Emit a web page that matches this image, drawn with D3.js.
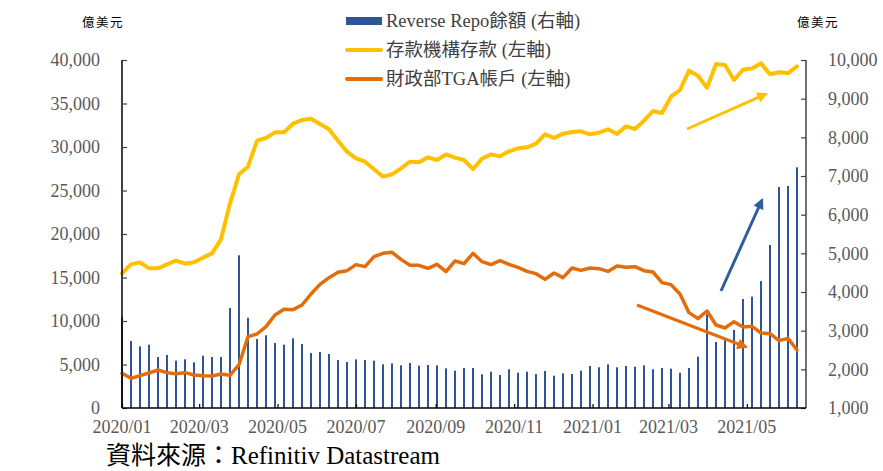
<!DOCTYPE html>
<html>
<head>
<meta charset="utf-8">
<script src="https://cdn.jsdelivr.net/npm/d3@7/dist/d3.min.js"></script>
<style>
  html, body { margin: 0; padding: 0; background: #fff; }
  svg { display: block; }
  text { font-family: "Liberation Serif", "Noto Sans CJK TC", serif; }
</style>
</head>
<body>
<svg id="chart" width="883" height="471"></svg>
<script>
// ---------- DATA ----------
const startDate = "2020-01-01";   // weekly observations (Wednesdays)
const weekCount = 76;

// Reverse Repo 餘額 (right axis, 億美元)
const reverseRepo = [
  3346, 2733, 2595, 2637, 2319, 2371, 2224, 2259, 2181, 2353, 2319, 2319, 3586, 4949, 3335, 2784,
  2880, 2681, 2637, 2802, 2655, 2422, 2448, 2396, 2241, 2190, 2259, 2241, 2224, 2130, 2156, 2104,
  2164, 2095, 2112, 2104, 2026, 1965, 2034, 2034, 1871, 1939, 1853, 2000, 1913, 1939, 1879, 1957,
  1836, 1897, 1879, 1965, 2086, 2052, 2130, 2052, 2086, 2069, 2104, 2000, 2034, 2017, 1913, 2034,
  2327, 3423, 2707, 2758, 3017, 3819, 3879, 4284, 5215, 6715, 6741, 7225
];

// 存款機構存款 (left axis, 億美元)
const deposits = [
  15479, 16513, 16743, 16054, 16054, 16513, 16935, 16590, 16743, 17280, 17778, 19391, 23528, 26862, 27740, 30724,
  31034, 31686, 31686, 32677, 33103, 33256, 32643, 32031, 30724, 29460, 28700, 28314, 27434, 26590, 26862, 27549,
  28314, 28238, 28812, 28506, 29157, 28774, 28506, 27471, 28659, 29157, 28927, 29506, 29850, 29965, 30379, 31456,
  31034, 31532, 31724, 31801, 31456, 31647, 32031, 31494, 32375, 32068, 33026, 34137, 33907, 35781, 36551, 38770,
  38195, 36819, 39540, 39425, 37701, 38885, 39036, 39617, 38356, 38587, 38502, 39272
];

// 財政部TGA帳戶 (left axis, 億美元)
const tga = [
  3985, 3410, 3716, 4023, 4368, 4061, 3946, 4061, 3793, 3716, 3678, 3908, 3755, 4981, 8199, 8506,
  9349, 10690, 11341, 11303, 11839, 13103, 14215, 14981, 15594, 15785, 16480, 16245, 17395, 17778, 17893, 17088,
  16399, 16399, 16054, 16513, 15670, 16897, 16590, 17778, 16820, 16475, 16935, 16513, 16169, 15709, 15441, 14790,
  15517, 14981, 16092, 15824, 16092, 16016, 15700, 16322, 16169, 16245, 15785, 15632, 14407, 14177, 13103, 10958,
  10268, 11149, 9540, 9195, 9923, 9310, 9387, 8620, 8544, 7739, 8008, 6667
];

const leftTicks = [0, 5000, 10000, 15000, 20000, 25000, 30000, 35000, 40000];
const rightTicks = [1000, 2000, 3000, 4000, 5000, 6000, 7000, 8000, 9000, 10000];
const xTickLabels = ["2020/01", "2020/03", "2020/05", "2020/07", "2020/09", "2020/11", "2021/01", "2021/03", "2021/05"];
const xDomainEnd = "2021-06-16";

const legendLabels = ["Reverse Repo餘額 (右軸)", "存款機構存款 (左軸)", "財政部TGA帳戶 (左軸)"];
const unitLabel = "億美元";
const sourceLabel = "資料來源：Refinitiv Datastream";

// ---------- CHART ----------
const parse = d3.timeParse("%Y-%m-%d");
const parseMonth = d3.timeParse("%Y/%m");
const start = parse(startDate);
const dates = d3.range(weekCount).map(i => d3.timeDay.offset(start, 7 * i));

const colors = { bar: "#2F5597", yellow: "#FFC000", orange: "#E46C0A", arrowBlue: "#2F5F9A" };
const svg = d3.select("#chart");

const x = d3.scaleTime().domain([start, parse(xDomainEnd)]).range([122, 806]);
const yL = d3.scaleLinear().domain([0, 40000]).range([408, 60]);
const yR = d3.scaleLinear().domain([1000, 10000]).range([408, 60]);

// bars
svg.append("g").selectAll("rect").data(reverseRepo).join("rect")
  .attr("x", (d, i) => x(dates[i]) - 1)
  .attr("width", 2)
  .attr("y", d => yR(d))
  .attr("height", d => yR(1000) - yR(d))
  .attr("fill", colors.bar);

// lines
const lineL = d3.line().x((d, i) => x(dates[i])).y(d => yL(d));
svg.append("path").datum(deposits).attr("d", lineL)
  .attr("fill", "none").attr("stroke", colors.yellow).attr("stroke-width", 4)
  .attr("stroke-linejoin", "round").attr("stroke-linecap", "round");
svg.append("path").datum(tga).attr("d", lineL)
  .attr("fill", "none").attr("stroke", colors.orange).attr("stroke-width", 3.5)
  .attr("stroke-linejoin", "round").attr("stroke-linecap", "round");

// left axis
const axL = d3.axisRight(yL).tickValues(leftTicks).tickSize(5).tickFormat("");
const gL = svg.append("g").attr("transform", `translate(${x.range()[0]},0)`).call(axL);
gL.select(".domain").attr("stroke", "#000").attr("stroke-width", 1.5).attr("d", `M0,${yL(40000)}H0V${yL(0)}`);
gL.selectAll(".tick line").attr("stroke", "#404040").attr("stroke-width", 1.2);
svg.append("g").selectAll("text").data(leftTicks).join("text")
  .attr("x", 100).attr("y", d => yL(d)).attr("dy", "0.35em")
  .attr("text-anchor", "end").attr("font-size", 18).attr("fill", "#595959")
  .text(d => d3.format(",")(d));

// right axis
const axR = d3.axisLeft(yR).tickValues(rightTicks).tickSize(5).tickFormat("");
const gR = svg.append("g").attr("transform", `translate(${x.range()[1]},0)`).call(axR);
gR.select(".domain").attr("stroke", "#404040").attr("stroke-width", 1.5).attr("d", `M0,${yR(10000)}H0V${yR(1000)}`);
gR.selectAll(".tick line").attr("stroke", "#404040").attr("stroke-width", 1.2);
svg.append("g").selectAll("text").data(rightTicks).join("text")
  .attr("x", 828).attr("y", d => yR(d)).attr("dy", "0.35em")
  .attr("text-anchor", "start").attr("font-size", 18).attr("fill", "#595959")
  .text(d => d3.format(",")(d));

// x axis
const xTickDates = xTickLabels.map(parseMonth);
const axX = d3.axisTop(x).tickValues(xTickDates).tickSize(4).tickFormat("");
const gX = svg.append("g").attr("transform", `translate(0,${yL(0)})`).call(axX);
gX.select(".domain").attr("stroke", "#000").attr("stroke-width", 1.5).attr("d", `M${x.range()[0]},0H${x.range()[1]}`);
gX.selectAll(".tick line").attr("stroke", "#000").attr("stroke-width", 1.2);
svg.append("g").selectAll("text").data(xTickLabels).join("text")
  .attr("x", (d, i) => x(xTickDates[i])).attr("y", 433)
  .attr("text-anchor", "middle").attr("font-size", 18).attr("fill", "#595959")
  .text(d => d);

// unit labels
svg.append("text").attr("x", 82).attr("y", 27).attr("font-size", 12.5).attr("letter-spacing", 1.5)
  .attr("fill", "#000").text(unitLabel);
svg.append("text").attr("x", 797).attr("y", 27).attr("font-size", 12.5).attr("letter-spacing", 1.5)
  .attr("fill", "#000").text(unitLabel);

// legend
const legY = [21, 50, 79];
svg.append("rect").attr("x", 346).attr("y", legY[0] - 4).attr("width", 36).attr("height", 8).attr("fill", colors.bar);
svg.append("line").attr("x1", 347).attr("x2", 381).attr("y1", legY[1]).attr("y2", legY[1])
  .attr("stroke", colors.yellow).attr("stroke-width", 4).attr("stroke-linecap", "round");
svg.append("line").attr("x1", 347).attr("x2", 381).attr("y1", legY[2]).attr("y2", legY[2])
  .attr("stroke", colors.orange).attr("stroke-width", 4).attr("stroke-linecap", "round");
svg.append("g").selectAll("text").data(legendLabels).join("text")
  .attr("x", 386).attr("y", (d, i) => legY[i]).attr("dy", "0.35em")
  .attr("font-size", 18.5).attr("fill", "#404040").text(d => d);

// annotation arrows
const defs = svg.append("defs");
function marker(id, color) {
  defs.append("marker").attr("id", id).attr("viewBox", "0 0 10 10")
    .attr("refX", 8).attr("refY", 5).attr("markerWidth", 4).attr("markerHeight", 3.6)
    .attr("orient", "auto").attr("markerUnits", "strokeWidth")
    .append("path").attr("d", "M0,0L10,5L0,10Z").attr("fill", color);
}
marker("arrY", colors.yellow);
marker("arrB", colors.arrowBlue);
marker("arrO", colors.orange);
const arrows = [
  { x1: 687, y1: 129, x2: 766, y2: 94, c: colors.yellow, m: "arrY" },
  { x1: 721, y1: 291, x2: 762, y2: 200, c: colors.arrowBlue, m: "arrB" },
  { x1: 637, y1: 305, x2: 746, y2: 347, c: colors.orange, m: "arrO" }
];
svg.append("g").selectAll("line").data(arrows).join("line")
  .attr("x1", d => d.x1).attr("y1", d => d.y1).attr("x2", d => d.x2).attr("y2", d => d.y2)
  .attr("stroke", d => d.c).attr("stroke-width", 3)
  .attr("marker-end", d => `url(#${d.m})`);

// source
svg.append("text").attr("x", 106).attr("y", 455).attr("dy", "0.35em").attr("font-size", 25).attr("fill", "#000")
  .text(sourceLabel);
</script>
</body>
</html>
